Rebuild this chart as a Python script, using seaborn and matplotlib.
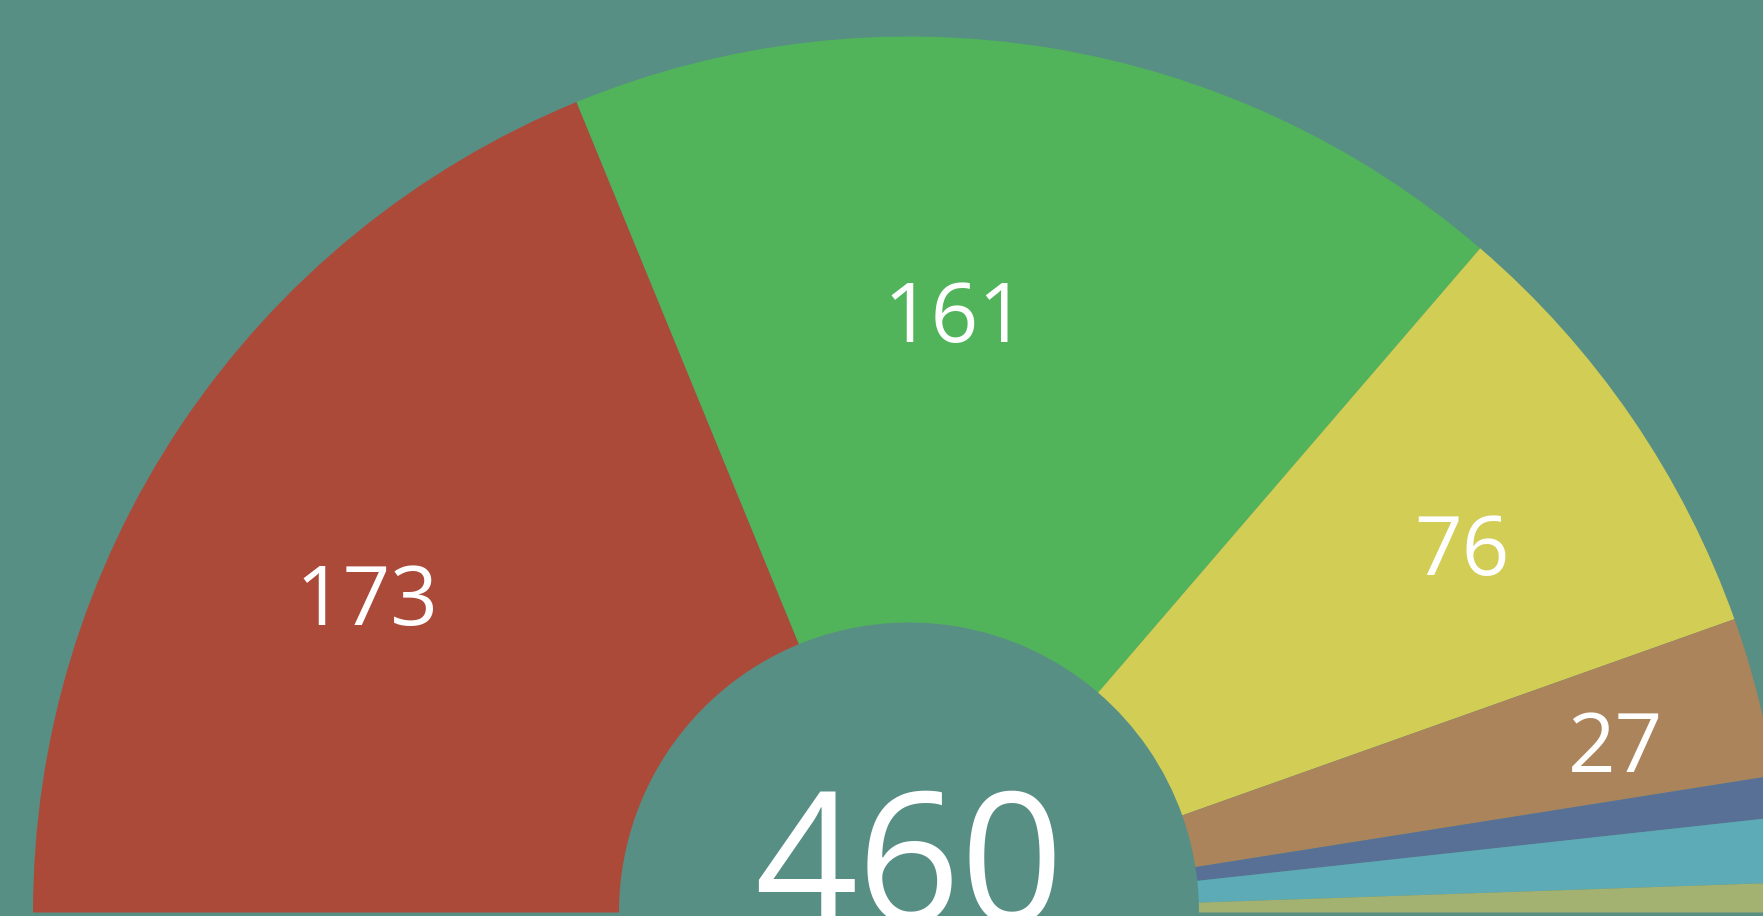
import numpy as np
import seaborn as sns
import matplotlib.pyplot as plt

sns.set_style("white")
plt.rcParams["font.family"] = ["Open Sans", "DejaVu Sans"]

# seats per party, left to right
seats = [173, 161, 76, 27, 7, 11, 5]
colors = ["#AC4A3A", "#51B35A", "#D2CD55", "#AB845C", "#587096", "#5DABB7", "#A3B270"]
total = sum(seats)

# hand tweaks for the value labels (degrees, fraction of outer radius)
label_nudge = [3.5, 4.8, -0.8, -0.7, 0, 0, 0]
label_rad = [0.717, 0.687, 0.758, 0.83, 0, 0, 0]

bg = "#588F85"
W, H = 1763, 916
cx, cy = 909, 3.5
R, r = 876, 290

fig = plt.figure(figsize=(W / 100, H / 100), dpi=100, facecolor=bg)
ax = fig.add_axes([0, 0, 1, 1])
ax.set_facecolor(bg)

# bottom half is an invisible wedge so the pie becomes a half donut
ax.pie(
    seats + [total],
    colors=colors + ["none"],
    startangle=180,
    counterclock=False,
    radius=R,
    center=(cx, cy),
    wedgeprops=dict(width=R - r, linewidth=0),
)

cum = np.cumsum(seats)
mid = 180 - (cum - np.array(seats) / 2) / total * 180
for s, a, dn, fr in zip(seats, mid, label_nudge, label_rad):
    if s < 20:
        continue
    a = np.radians(a + dn)
    ax.text(cx + fr * R * np.cos(a), cy + fr * R * np.sin(a) - 30, str(s),
            ha="center", va="baseline", color="white", fontsize=60)

ax.text(cx, cy - 9, str(total), ha="center", va="baseline",
        color="white", fontsize=130)

ax.set_xlim(0, W)
ax.set_ylim(0, H)
ax.set_aspect("auto")
ax.axis("off")

fig.savefig("out.png", dpi=100, facecolor=bg)
